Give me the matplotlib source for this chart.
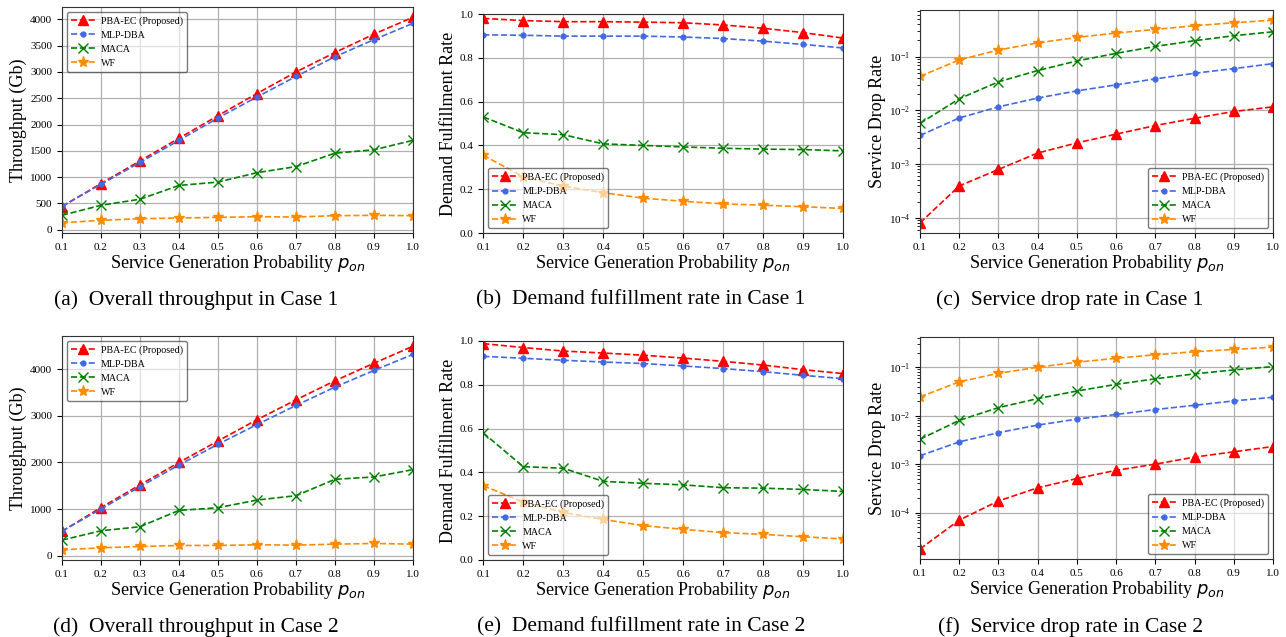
import matplotlib
matplotlib.use('Agg')
import matplotlib.pyplot as plt
from matplotlib.ticker import MultipleLocator

plt.rcParams['font.family'] = ['Liberation Serif', 'DejaVu Serif']
plt.rcParams['mathtext.fontset'] = 'custom'
plt.rcParams['mathtext.rm'] = 'Liberation Serif'
plt.rcParams['mathtext.it'] = 'DejaVu Sans:italic'
plt.rcParams['axes.unicode_minus'] = True

# ── DATA ─────────────────────────────────────────────────────────────────────
p_on = [0.1, 0.2, 0.3, 0.4, 0.5, 0.6, 0.7, 0.8, 0.9, 1.0]
methods = ['PBA-EC (Proposed)', 'MLP-DBA', 'MACA', 'WF']

# Case 1
thr1_pba = [440, 880, 1310, 1740, 2170, 2590, 3000, 3370, 3720, 4040]
thr1_mlp = [450, 865, 1280, 1700, 2125, 2525, 2915, 3290, 3615, 3925]
thr1_maca = [275, 466, 581, 843, 907, 1086, 1201, 1457, 1521, 1700]
thr1_wf = [134, 179, 211, 224, 236, 249, 243, 268, 275, 268]

dfr1_pba = [0.98, 0.97, 0.965, 0.965, 0.963, 0.96, 0.95, 0.935, 0.915, 0.89]
dfr1_mlp = [0.905, 0.903, 0.899, 0.899, 0.899, 0.895, 0.888, 0.876, 0.861, 0.845]
dfr1_maca = [0.53, 0.458, 0.449, 0.407, 0.40, 0.393, 0.387, 0.383, 0.381, 0.375]
dfr1_wf = [0.355, 0.257, 0.214, 0.184, 0.159, 0.145, 0.133, 0.127, 0.12, 0.112]

sdr1_pba = [8.0e-5, 3.9e-4, 7.9e-4, 1.6e-3, 2.47e-3, 3.6e-3, 5.2e-3, 7.1e-3, 9.5e-3, 1.16e-2]
sdr1_mlp = [3.4e-3, 7.2e-3, 1.16e-2, 1.69e-2, 2.3e-2, 2.98e-2, 3.85e-2, 4.9e-2, 5.98e-2, 7.4e-2]
sdr1_maca = [5.7e-3, 1.64e-2, 3.39e-2, 5.5e-2, 8.3e-2, 0.115, 0.155, 0.198, 0.245, 0.29]
sdr1_wf = [0.043, 0.0867, 0.133, 0.18, 0.228, 0.275, 0.321, 0.376, 0.427, 0.478]

# Case 2
thr2_pba = [525, 1035, 1520, 2000, 2460, 2915, 3340, 3750, 4125, 4490]
thr2_mlp = [530, 1002, 1481, 1946, 2390, 2812, 3220, 3614, 3971, 4315]
thr2_maca = [336, 537, 623, 973, 1030, 1195, 1288, 1639, 1689, 1846]
thr2_wf = [129, 172, 200, 222, 222, 236, 229, 250, 265, 250]

dfr2_pba = [0.988, 0.97, 0.954, 0.945, 0.935, 0.922, 0.907, 0.89, 0.869, 0.851]
dfr2_mlp = [0.93, 0.921, 0.912, 0.904, 0.897, 0.886, 0.874, 0.86, 0.843, 0.828]
dfr2_maca = [0.58, 0.426, 0.419, 0.359, 0.35, 0.343, 0.33, 0.328, 0.322, 0.313]
dfr2_wf = [0.339, 0.265, 0.217, 0.185, 0.157, 0.14, 0.125, 0.117, 0.106, 0.096]

sdr2_pba = [1.78e-5, 7.0e-5, 1.74e-4, 3.25e-4, 5.05e-4, 7.46e-4, 1.0e-3, 1.4e-3, 1.8e-3, 2.31e-3]
sdr2_mlp = [1.49e-3, 2.88e-3, 4.47e-3, 6.4e-3, 8.5e-3, 1.06e-2, 1.34e-2, 1.64e-2, 2.02e-2, 2.4e-2]
sdr2_maca = [3.27e-3, 8.0e-3, 1.47e-2, 2.25e-2, 3.23e-2, 4.43e-2, 5.77e-2, 7.3e-2, 8.8e-2, 0.103]
sdr2_wf = [2.44e-2, 5.0e-2, 7.5e-2, 0.1, 0.127, 0.153, 0.181, 0.209, 0.233, 0.26]

# ── STYLE ────────────────────────────────────────────────────────────────────
styles = [
    dict(color='red', marker='^', markersize=7),
    dict(color='royalblue', marker='o', markersize=3.5),
    dict(color='green', marker='x', markersize=7, markeredgewidth=1.0),
    dict(color='darkorange', marker='*', markersize=8),
]

panels = [
    # rect, series, ylabel, log, legend loc, caption, caption x
    ([0.0482, 0.6342, 0.2729, 0.3548], [thr1_pba, thr1_mlp, thr1_maca, thr1_wf],
     'Throughput (Gb)', False, 'upper left', '(a)  Overall throughput in Case 1', 196),
    ([0.3758, 0.6342, 0.2799, 0.3438], [dfr1_pba, dfr1_mlp, dfr1_maca, dfr1_wf],
     'Demand Fulfillment Rate', False, 'lower left', '(b)  Demand fulfillment rate in Case 1', 641),
    ([0.7154, 0.6342, 0.2745, 0.3501], [sdr1_pba, sdr1_mlp, sdr1_maca, sdr1_wf],
     'Service Drop Rate', True, 'lower right', '(c)  Service drop rate in Case 1', 1070),
    ([0.0482, 0.1209, 0.2729, 0.3516], [thr2_pba, thr2_mlp, thr2_maca, thr2_wf],
     'Throughput (Gb)', False, 'upper left', '(d)  Overall throughput in Case 2', 196),
    ([0.3758, 0.1209, 0.2799, 0.3438], [dfr2_pba, dfr2_mlp, dfr2_maca, dfr2_wf],
     'Demand Fulfillment Rate', False, 'lower left', '(e)  Demand fulfillment rate in Case 2', 641),
    ([0.7154, 0.1224, 0.2745, 0.3485], [sdr2_pba, sdr2_mlp, sdr2_maca, sdr2_wf],
     'Service Drop Rate', True, 'lower right', '(f)  Service drop rate in Case 2', 1070),
]

W, H = 1286, 637
fig = plt.figure(figsize=(W / 100, H / 100), dpi=100)

for i, (rect, series, ylabel, logy, loc, caption, cx) in enumerate(panels):
    ax = fig.add_axes(rect)
    for name, vals, st in zip(methods, series, styles):
        ax.plot(p_on, vals, linestyle='--', linewidth=1.2, label=name, **st)
    ax.set_xlim(0.1, 1.0)
    ax.xaxis.set_major_locator(MultipleLocator(0.1))
    if logy:
        ax.set_yscale('log')
    elif 'Throughput' in ylabel:
        ax.yaxis.set_major_locator(MultipleLocator(500 if i == 0 else 1000))
    else:
        ax.set_ylim(0, 1.0)
        ax.yaxis.set_major_locator(MultipleLocator(0.2))
    ax.grid(True, color='#b0b0b0', linewidth=0.9)
    ax.tick_params(labelsize=8)
    for sp in ax.spines.values():
        sp.set_color('#333333')
    ax.set_xlabel('Service Generation Probability $p_{on}$', fontsize=13, labelpad=1)
    ax.set_ylabel(ylabel, fontsize=13, labelpad=2)
    leg = ax.legend(loc=loc, fontsize=7.2, framealpha=0.6, fancybox=True,
                    handlelength=2.5, handletextpad=0.5)
    leg.get_frame().set_edgecolor('#222222')
    cy = 300 if i < 3 else 627
    fig.text(cx / W, 1 - cy / H, caption, ha='center', va='center', fontsize=15.5)

fig.savefig('out.png', dpi=100)
